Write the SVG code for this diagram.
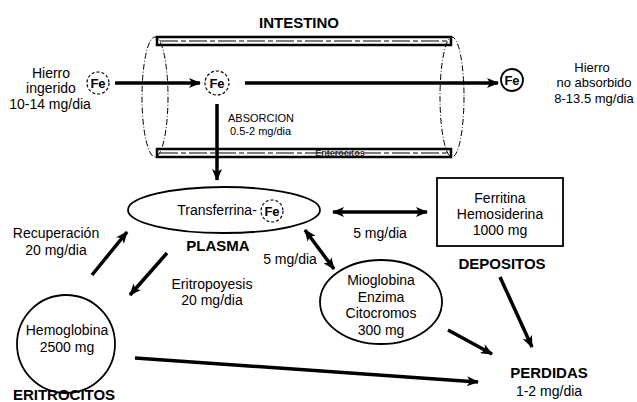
<svg xmlns="http://www.w3.org/2000/svg" width="637" height="402" viewBox="0 0 637 402">
<defs>
<marker id="ah" viewBox="0 0 12 10" refX="11" refY="5" markerWidth="13" markerHeight="10" markerUnits="userSpaceOnUse" orient="auto-start-reverse">
<path d="M0,0 L12,5 L0,10 L3,5 Z" fill="#000"/>
</marker>
</defs>
<style>
text{font-family:"Liberation Sans",Arial,sans-serif;font-size:14px;fill:#000;text-anchor:middle}
.b{font-weight:bold;font-size:15px}
.s{font-size:11px;text-anchor:start}
.r{font-size:13px}
.fe{font-weight:bold;font-size:13px}
.arr{stroke:#000;stroke-width:3.5;fill:none;marker-end:url(#ah)}
.dbl{stroke:#000;stroke-width:3.5;fill:none;marker-end:url(#ah);marker-start:url(#ah)}
.node{fill:#fff;stroke:#000;stroke-width:1.8}
.dash{fill:#fff;stroke:#000;stroke-width:1.2;stroke-dasharray:3 2}
.tube{fill:none;stroke:#000;stroke-width:1}
.band{fill:#fff;stroke:#000;stroke-width:2.5}
.bandin{stroke:#000;stroke-width:1.2;stroke-dasharray:18 3 5 3}
</style>
<rect width="637" height="402" fill="#fff"/>
<g id="intestino">
<text class="b" x="299" y="28">INTESTINO</text>
<rect x="157" y="37" width="294" height="8" class="band"/>
<line x1="160" y1="41" x2="448" y2="41" class="bandin"/>
<rect x="157" y="149" width="294" height="8" class="band"/>
<line x1="160" y1="153" x2="448" y2="153" class="bandin"/>
<text x="340" y="156" style="font-size:9px;font-weight:bold;fill:#333">Enterocitos</text>
<ellipse cx="155" cy="97" rx="13" ry="60" class="tube" stroke-dasharray="6 2 1 2"/>
<ellipse cx="452" cy="97" rx="12" ry="60" class="tube" stroke-dasharray="6 2 1 2"/>
</g>
<g id="fe-ingerido">
<circle cx="98" cy="83" r="11" class="dash"/>
<text class="fe" x="98" y="88">Fe</text>
<text x="51" y="78">Hierro</text>
<text x="51" y="93">ingerido</text>
<text x="50" y="109">10-14 mg/dia</text>
</g>
<g id="fe-luz">
<circle cx="217" cy="83" r="12" class="dash"/>
<text class="fe" x="217" y="88">Fe</text>
</g>
<g id="fe-no-absorbido">
<circle cx="512" cy="80" r="11" class="node" stroke-width="1.3"/>
<text class="fe" x="512" y="85">Fe</text>
<text class="r" x="592" y="72">Hierro</text>
<text class="r" x="594" y="87">no absorbido</text>
<text class="r" x="594" y="103">8-13.5 mg/dia</text>
</g>
<g id="plasma">
<ellipse cx="224" cy="210" rx="96" ry="23" class="node"/>
<text x="217" y="215">Transferrina-</text>
<circle cx="272" cy="211" r="11" class="dash"/>
<text class="fe" x="272" y="216">Fe</text>
<text class="b" x="218" y="251">PLASMA</text>
</g>
<g id="depositos">
<rect x="437" y="178" width="126" height="68" class="node"/>
<text x="500" y="203">Ferritina</text>
<text x="500" y="219">Hemosiderina</text>
<text x="500" y="235">1000 mg</text>
<text class="b" x="502" y="269">DEPOSITOS</text>
</g>
<g id="tejidos">
<ellipse cx="381" cy="302" rx="61" ry="42" class="node"/>
<text x="381" y="285">Mioglobina</text>
<text x="381" y="302">Enzima</text>
<text x="381" y="318">Citocromos</text>
<text x="381" y="335">300 mg</text>
</g>
<g id="eritrocitos">
<circle cx="66" cy="344" r="49" class="node"/>
<text x="67" y="335">Hemoglobina</text>
<text x="67" y="352">2500 mg</text>
<text class="b" x="64" y="400">ERITROCITOS</text>
</g>
<g id="perdidas">
<text class="b" x="549" y="378">PERDIDAS</text>
<text x="549" y="396">1-2 mg/dia</text>
</g>
<g id="connectors">
<line x1="115" y1="83" x2="200" y2="83" class="arr"/>
<line x1="245" y1="83" x2="498" y2="83" class="arr"/>
<line x1="217" y1="104" x2="217" y2="180" class="arr"/>
<text class="s" x="228" y="122">ABSORCION</text>
<text class="s" x="230" y="135">0.5-2 mg/dia</text>
<line x1="333" y1="212" x2="427" y2="212" class="dbl"/>
<text x="380" y="238">5 mg/dia</text>
<line x1="305" y1="230" x2="334" y2="269" class="dbl"/>
<text x="290" y="264">5 mg/dia</text>
<line x1="92" y1="275" x2="127" y2="232" class="arr"/>
<text x="56" y="238">Recuperación</text>
<text x="56" y="255">20 mg/dia</text>
<line x1="167" y1="253" x2="130" y2="295" class="arr"/>
<text x="212" y="289">Eritropoyesis</text>
<text x="212" y="305">20 mg/dia</text>
<line x1="500" y1="277" x2="532" y2="347" class="arr"/>
<line x1="448" y1="330" x2="492" y2="354" class="arr"/>
<line x1="135" y1="358" x2="478" y2="382" class="arr"/>
</g>
</svg>
